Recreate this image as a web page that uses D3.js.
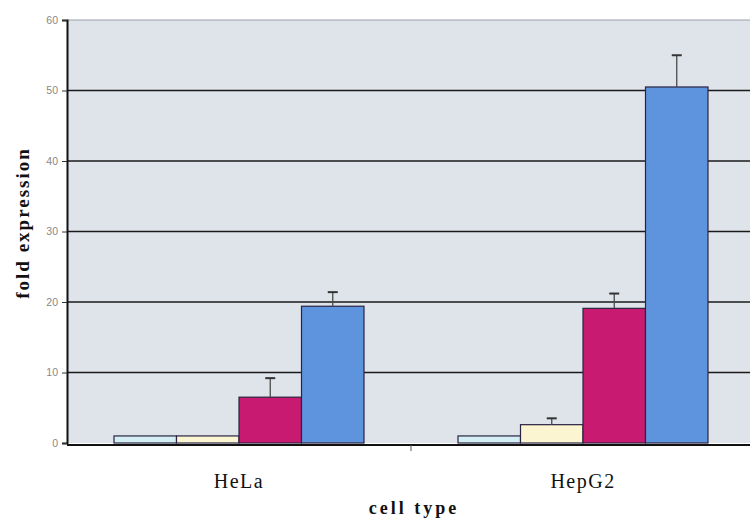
<!DOCTYPE html>
<html><head><meta charset="utf-8">
<script src="https://cdn.jsdelivr.net/npm/d3@7"></script>
<style>body{margin:0;background:#fff;}svg{display:block;}</style>
</head><body>
<svg id="c" width="750" height="518"></svg>
<script>
const categories = ["HeLa", "HepG2"];
const seriesNames = ["s1", "s2", "s3", "s4"];
const seriesColors = ["#d4eef6", "#fbf5d2", "#c81a70", "#5e94de"];
const values = [
  [1.0, 1.0, 6.5, 19.4],
  [1.0, 2.6, 19.1, 50.5]
];
const errors = [
  [null, null, 2.7, 2.0],
  [null, 0.9, 2.1, 4.5]
];
const yTicks = [0, 10, 20, 30, 40, 50, 60];

(function() {
const svg = d3.select("#c");
const mLeft = 67, mRight = 755, mTop = 20, mBottom = 443;
const x0 = d3.scaleBand().domain(categories).range([mLeft, mRight]).paddingInner(0).paddingOuter(0);
const x1 = d3.scaleBand().domain(seriesNames).range([47, x0.bandwidth() - 47]);
const y = d3.scaleLinear().domain([0, 60]).range([mBottom, mTop]);

svg.append("rect").attr("x", mLeft).attr("y", mTop).attr("width", mRight - mLeft).attr("height", mBottom - mTop)
  .attr("fill", "#dfe4ea");

svg.append("g").selectAll("line").data(yTicks.filter(d => d > 0)).join("line")
  .attr("x1", mLeft).attr("x2", mRight).attr("y1", d => y(d)).attr("y2", d => y(d))
  .attr("stroke", d => d === 60 ? "#9aa0a8" : "#1a1a1a").attr("stroke-width", d => d === 60 ? 1 : 1.3);

const g = svg.append("g").selectAll("g").data(categories).join("g")
  .attr("transform", d => `translate(${x0(d)},0)`);
g.selectAll("rect").data((d, i) => values[i].map((v, j) => ({v, j}))).join("rect")
  .attr("x", d => x1(seriesNames[d.j]))
  .attr("y", d => y(d.v))
  .attr("width", x1.bandwidth())
  .attr("height", d => y(0) - y(d.v))
  .attr("fill", d => seriesColors[d.j])
  .attr("stroke", "#2a2440").attr("stroke-width", 1.2);

g.each(function(c, i) {
  const eg = d3.select(this);
  values[i].forEach((v, j) => {
    const e = errors[i][j];
    if (e == null) return;
    const cx = x1(seriesNames[j]) + x1.bandwidth() / 2;
    eg.append("line").attr("x1", cx).attr("x2", cx).attr("y1", y(v)).attr("y2", y(v + e))
      .attr("stroke", "#4a4a4a").attr("stroke-width", 1.3);
    eg.append("line").attr("x1", cx - 5).attr("x2", cx + 5).attr("y1", y(v + e)).attr("y2", y(v + e))
      .attr("stroke", "#333").attr("stroke-width", 2);
  });
});

const yAxis = d3.axisLeft(y).tickValues(yTicks).tickSize(5).tickPadding(4);
const ya = svg.append("g").attr("transform", `translate(${mLeft},0)`).call(yAxis);
ya.select(".domain").attr("stroke", "#111").attr("stroke-width", 2);
ya.selectAll(".tick line").attr("stroke", "#333");
ya.selectAll("text").attr("font-family", "Liberation Sans, Arial, sans-serif").attr("font-size", 10.5).attr("fill", "#888");

const xAxis = d3.axisBottom(x0).tickSize(0).tickPadding(29);
const xa = svg.append("g").attr("transform", `translate(0,${mBottom + 2})`).call(xAxis);
xa.select(".domain").attr("stroke", "#111").attr("stroke-width", 2).attr("d", `M${mLeft},0H${mRight}`);
xa.selectAll("text").attr("font-family", "Liberation Serif, Times New Roman, serif").attr("font-size", 20)
  .attr("letter-spacing", 1.5).attr("fill", "#111");
svg.append("line").attr("x1", x0("HepG2")).attr("x2", x0("HepG2")).attr("y1", mBottom + 2).attr("y2", mBottom + 8).attr("stroke", "#555");

svg.append("text").attr("x", (mLeft + mRight) / 2 + 3).attr("y", 514).attr("text-anchor", "middle")
  .attr("font-family", "Liberation Serif, Times New Roman, serif").attr("font-weight", "bold").attr("font-size", 18)
  .attr("letter-spacing", 3).attr("fill", "#111")
  .text("cell type");
svg.append("text").attr("transform", "translate(29,223) rotate(-90)").attr("text-anchor", "middle")
  .attr("font-family", "Liberation Serif, Times New Roman, serif").attr("font-weight", "bold").attr("font-size", 19)
  .attr("letter-spacing", 2).attr("fill", "#111")
  .text("fold expression");
})();
</script>
</body></html>
